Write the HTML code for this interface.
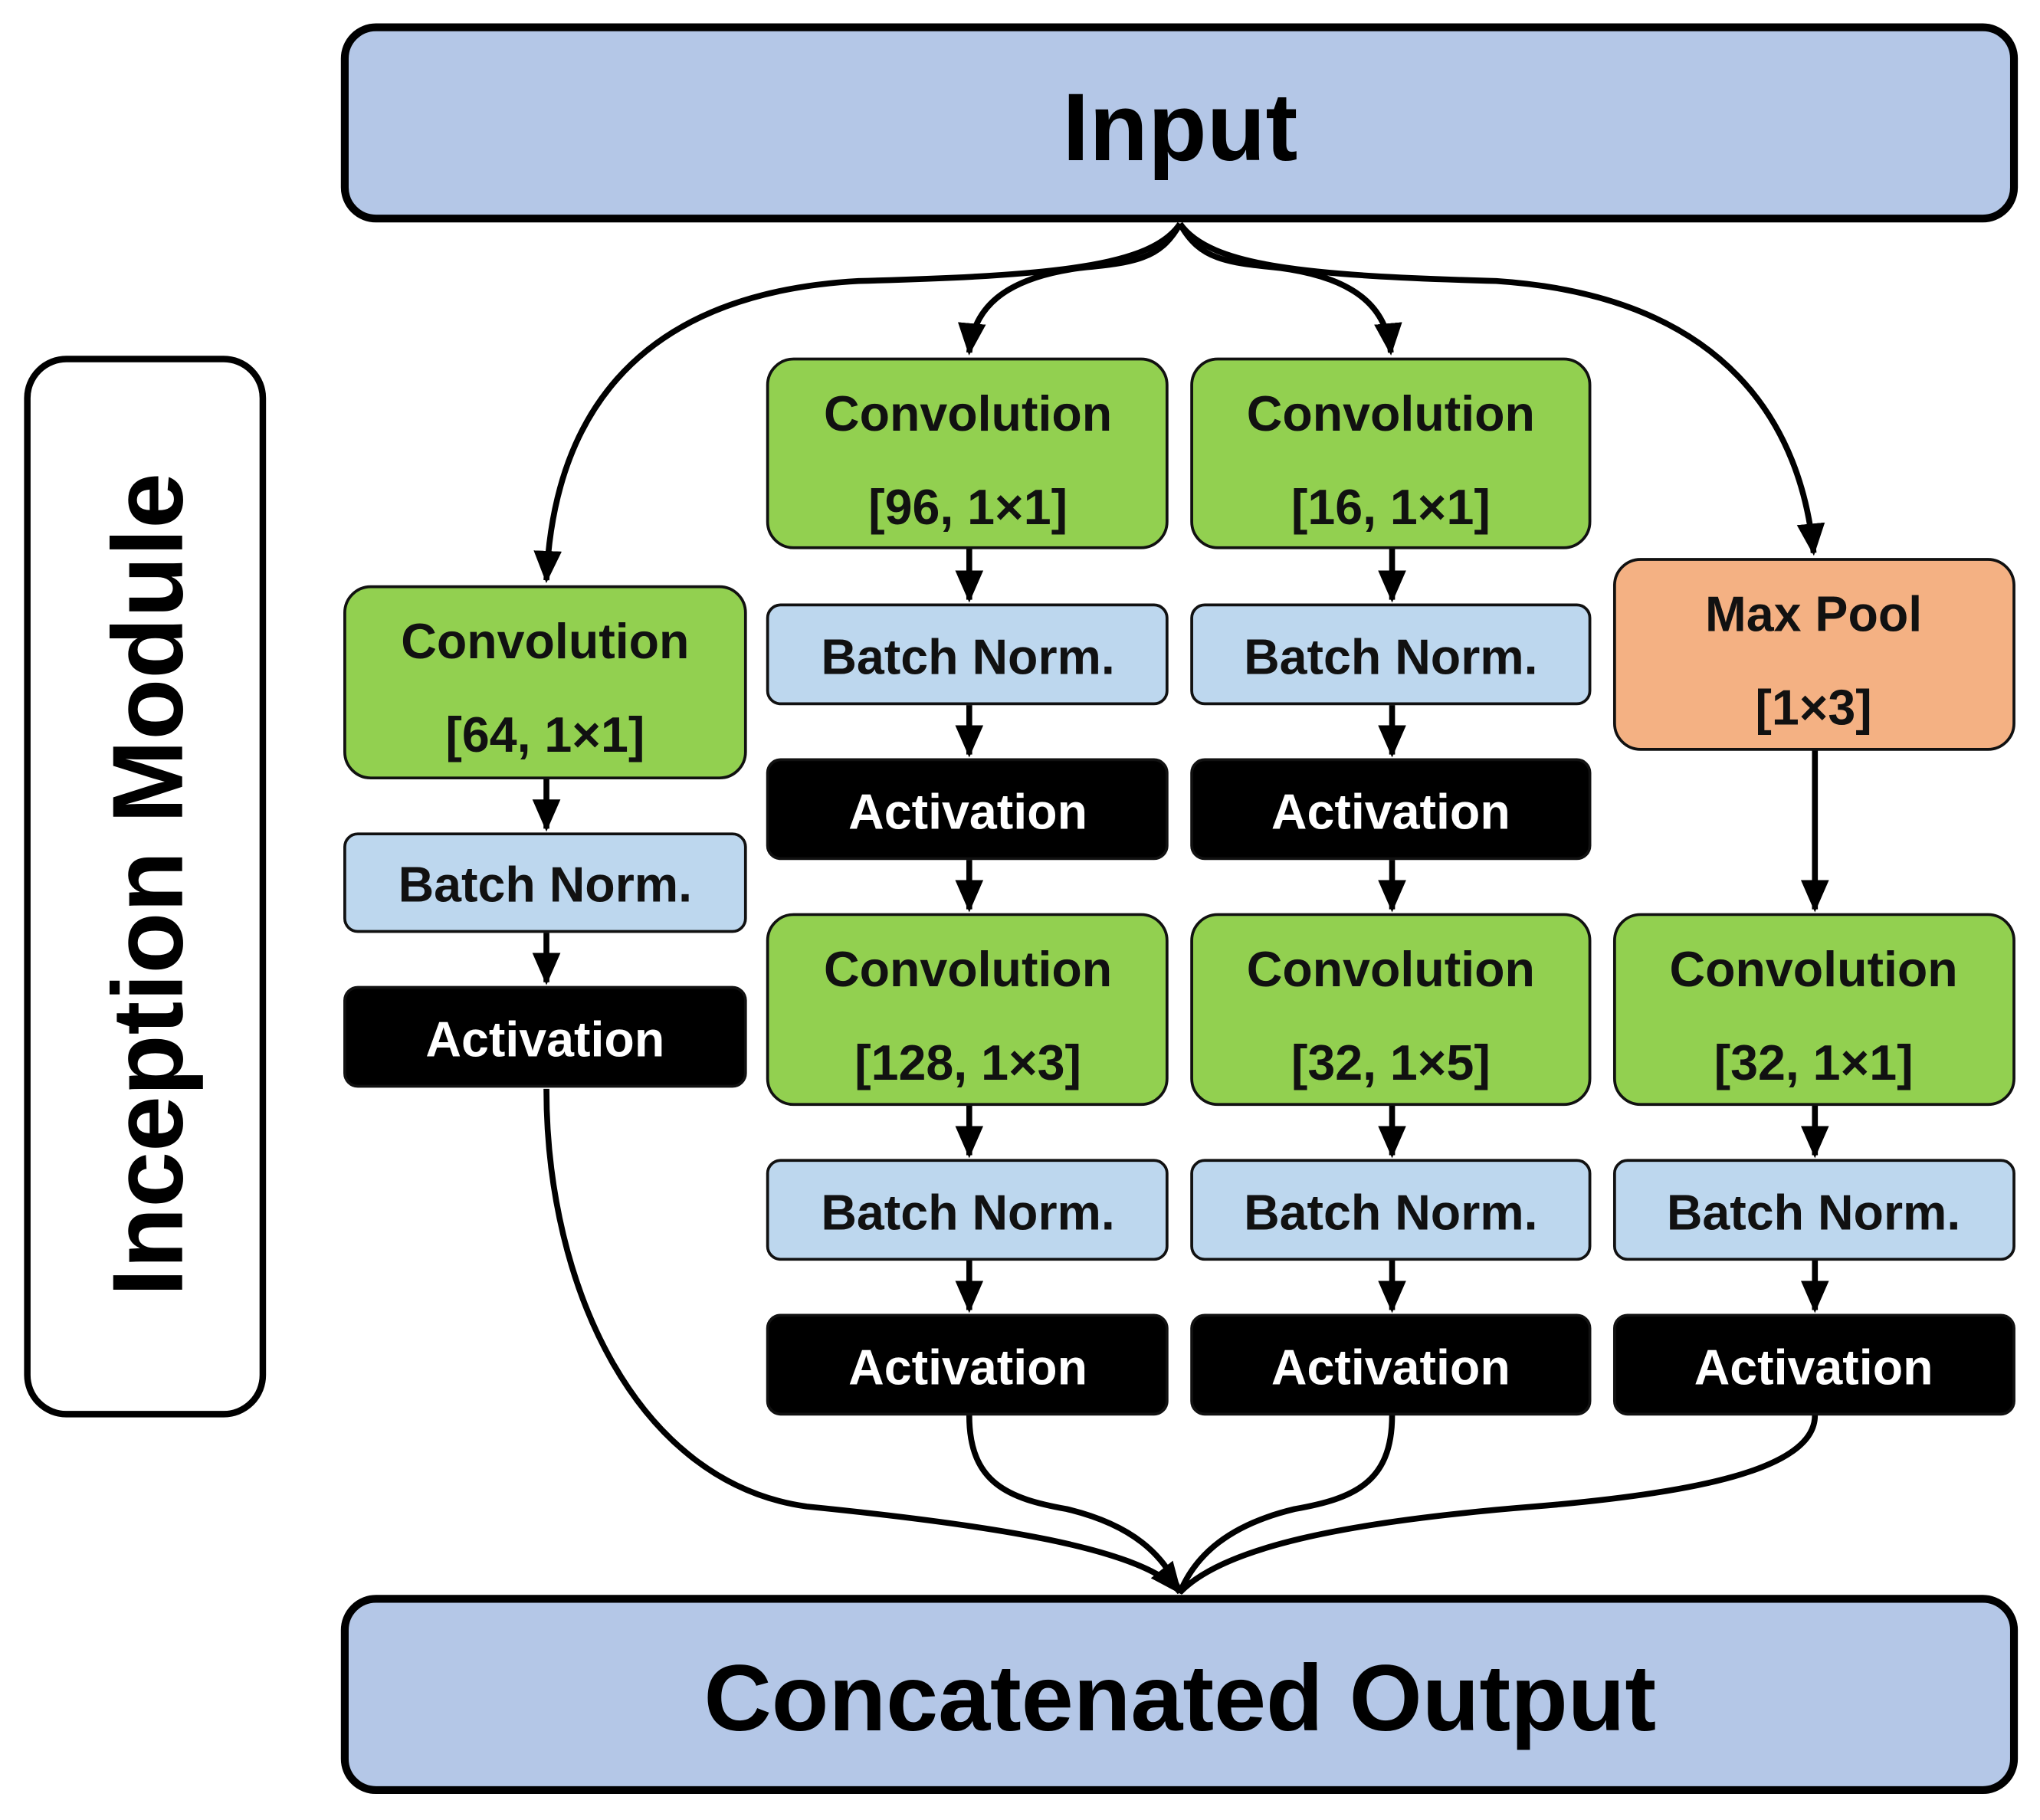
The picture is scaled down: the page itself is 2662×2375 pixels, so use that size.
<!DOCTYPE html>
<html><head><meta charset="utf-8"><style>
html,body{margin:0;padding:0;background:#fff;}
svg{display:block;}
text{font-family:"Liberation Sans",Arial,sans-serif;font-weight:bold;text-anchor:middle;}
</style></head><body>
<svg width="2662" height="2375" viewBox="0 0 1568 1399" preserveAspectRatio="none" xmlns="http://www.w3.org/2000/svg">
<defs>
<marker id="a" markerWidth="6" markerHeight="6" refX="5" refY="3" orient="auto" markerUnits="strokeWidth">
<path d="M0,0.6 L5.5,3 L0,5.4 Z" fill="#000"/></marker>
</defs>
<rect x="265" y="21" width="1283" height="147" rx="24" fill="#B4C7E7" stroke="#000" stroke-width="6"/>
<text x="907" y="123" font-size="74">Input</text>
<rect x="265" y="1229" width="1283" height="147" rx="24" fill="#B4C7E7" stroke="#000" stroke-width="6"/>
<text x="907" y="1330" font-size="72">Concatenated Output</text>
<rect x="21" y="276" width="181" height="811" rx="30" fill="#fff" stroke="#000" stroke-width="5"/>
<text transform="translate(140,680) rotate(-90)" font-size="77">Inception Module</text>

<g fill="none" stroke="#000" stroke-width="4.5">
<path d="M907,172 C885,205 810,212 660,216 C480,226 425,330 420,446" marker-end="url(#a)"/>
<path d="M907,172 C892,200 870,202 830,206 C770,214 748,238 745,271" marker-end="url(#a)"/>
<path d="M907,172 C922,200 944,202 984,206 C1044,214 1066,238 1069,271" marker-end="url(#a)"/>
<path d="M907,172 C930,205 1005,212 1150,216 C1330,228 1385,330 1394,425" marker-end="url(#a)"/>
<path d="M420,837 C420,990 490,1140 620,1158 C760,1172 880,1190 907,1224" marker-end="url(#a)"/>
<path d="M745,1088 C745,1140 775,1152 820,1160 C870,1172 895,1195 907,1224"/>
<path d="M1070,1088 C1070,1140 1040,1152 995,1160 C945,1172 919,1195 907,1224"/>
<path d="M1395,1088 C1395,1130 1300,1148 1180,1158 C1030,1170 940,1190 907,1224"/>
<path d="M420,599 V637" marker-end="url(#a)"/>
<path d="M420,717 V755" marker-end="url(#a)"/>
<path d="M745,422 V461" marker-end="url(#a)"/>
<path d="M745,542 V580" marker-end="url(#a)"/>
<path d="M745,661 V699" marker-end="url(#a)"/>
<path d="M745,850 V888" marker-end="url(#a)"/>
<path d="M745,969 V1007" marker-end="url(#a)"/>
<path d="M1070,422 V461" marker-end="url(#a)"/>
<path d="M1070,542 V580" marker-end="url(#a)"/>
<path d="M1070,661 V699" marker-end="url(#a)"/>
<path d="M1070,850 V888" marker-end="url(#a)"/>
<path d="M1070,969 V1007" marker-end="url(#a)"/>
<path d="M1395,577 V699" marker-end="url(#a)"/>
<path d="M1395,850 V888" marker-end="url(#a)"/>
<path d="M1395,969 V1007" marker-end="url(#a)"/>
</g>

<g stroke="#111" stroke-width="2.2">
<rect x="265" y="451" width="308" height="147" rx="20" fill="#92D050"/>
<rect x="265" y="641" width="308" height="75" rx="10" fill="#BDD7EE"/>
<rect x="265" y="759" width="308" height="76" rx="10" fill="#000"/>
<rect x="590" y="276" width="307" height="145" rx="20" fill="#92D050"/>
<rect x="590" y="465" width="307" height="76" rx="10" fill="#BDD7EE"/>
<rect x="590" y="584" width="307" height="76" rx="10" fill="#000"/>
<rect x="590" y="703" width="307" height="146" rx="20" fill="#92D050"/>
<rect x="590" y="892" width="307" height="76" rx="10" fill="#BDD7EE"/>
<rect x="590" y="1011" width="307" height="76" rx="10" fill="#000"/>
<rect x="916" y="276" width="306" height="145" rx="20" fill="#92D050"/>
<rect x="916" y="465" width="306" height="76" rx="10" fill="#BDD7EE"/>
<rect x="916" y="584" width="306" height="76" rx="10" fill="#000"/>
<rect x="916" y="703" width="306" height="146" rx="20" fill="#92D050"/>
<rect x="916" y="892" width="306" height="76" rx="10" fill="#BDD7EE"/>
<rect x="916" y="1011" width="306" height="76" rx="10" fill="#000"/>
<rect x="1241" y="430" width="307" height="146" rx="20" fill="#F4B183"/>
<rect x="1241" y="703" width="307" height="146" rx="20" fill="#92D050"/>
<rect x="1241" y="892" width="307" height="76" rx="10" fill="#BDD7EE"/>
<rect x="1241" y="1011" width="307" height="76" rx="10" fill="#000"/>
</g>

<g font-size="38" fill="#111">
<text x="419" y="506">Convolution</text>
<text x="419" y="578">[64, 1×1]</text>
<text x="419" y="693">Batch Norm.</text>
<text x="744" y="331">Convolution</text>
<text x="744" y="403">[96, 1×1]</text>
<text x="744" y="518">Batch Norm.</text>
<text x="744" y="758">Convolution</text>
<text x="744" y="830">[128, 1×3]</text>
<text x="744" y="945">Batch Norm.</text>
<text x="1069" y="331">Convolution</text>
<text x="1069" y="403">[16, 1×1]</text>
<text x="1069" y="518">Batch Norm.</text>
<text x="1069" y="758">Convolution</text>
<text x="1069" y="830">[32, 1×5]</text>
<text x="1069" y="945">Batch Norm.</text>
<text x="1394" y="485">Max Pool</text>
<text x="1394" y="557">[1×3]</text>
<text x="1394" y="758">Convolution</text>
<text x="1394" y="830">[32, 1×1]</text>
<text x="1394" y="945">Batch Norm.</text>
</g>
<g font-size="38" fill="#fff">
<text x="419" y="812">Activation</text>
<text x="744" y="637">Activation</text>
<text x="744" y="1064">Activation</text>
<text x="1069" y="637">Activation</text>
<text x="1069" y="1064">Activation</text>
<text x="1394" y="1064">Activation</text>
</g>
</svg>
</body></html>
